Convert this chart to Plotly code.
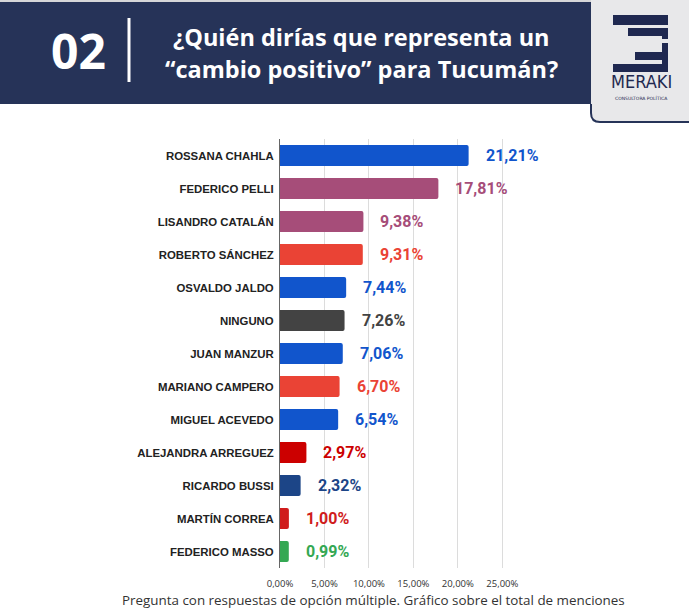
import plotly.graph_objects as go

names = ["ROSSANA CHAHLA", "FEDERICO PELLI", "LISANDRO CATALÁN", "ROBERTO SÁNCHEZ",
         "OSVALDO JALDO", "NINGUNO", "JUAN MANZUR", "MARIANO CAMPERO", "MIGUEL ACEVEDO",
         "ALEJANDRA ARREGUEZ", "RICARDO BUSSI", "MARTÍN CORREA", "FEDERICO MASSO"]
values = [21.21, 17.81, 9.38, 9.31, 7.44, 7.26, 7.06, 6.70, 6.54, 2.97, 2.32, 1.00, 0.99]
colors = ["#1155cc", "#a64d79", "#a64d79", "#ea4335", "#1155cc", "#434343", "#1155cc",
          "#ea4335", "#1155cc", "#cc0000", "#1c4587", "#d01c1c", "#34a853"]
tick_vals = [0, 5, 10, 15, 20, 25]
tick_text = ["0,00%", "5,00%", "10,00%", "15,00%", "20,00%", "25,00%"]

W, H = 689, 612
L, T, R, B = 280, 139, 160, 44
PW, PH = W - L - R, H - T - B
NAVY = "#263358"
LOGO = "#1f2850"


def px(x):
    return (x - L) / PW


def py(y):
    return 1 - (y - T) / PH


def rect(x0, y0, x1, y1, color):
    return dict(type="rect", xref="paper", yref="paper", x0=px(x0), x1=px(x1),
                y0=py(y1), y1=py(y0), fillcolor=color, line=dict(width=0))


def path(pts, close=True):
    s = ""
    for i, p in enumerate(pts):
        if p[0] == "Q":
            s += f" Q {px(p[1]):.5f},{py(p[2]):.5f} {px(p[3]):.5f},{py(p[4]):.5f}"
        else:
            s += (" M " if i == 0 else " L ") + f"{px(p[0]):.5f},{py(p[1]):.5f}"
    return s + (" Z" if close else "")


fig = go.Figure(go.Bar(
    x=values, y=names, orientation="h", marker=dict(color=colors, line=dict(width=0)),
    hoverinfo="skip"))

shapes = [
    rect(0, 0, 689, 2, "#d6d6d8"),
    rect(0, 2, 593, 104, NAVY),
    rect(127.5, 18, 130.5, 82, "#ffffff"),
    dict(type="path", xref="paper", yref="paper",
         path=path([(591, 0), (689, 0), (689, 122), (600, 122), ("Q", 591, 122, 591, 113)]),
         fillcolor="#e8e8ea", line=dict(width=0)),
    dict(type="path", xref="paper", yref="paper",
         path=path([(591, 104), (591, 113), ("Q", 591, 122, 600, 122), (689, 122)], close=False),
         line=dict(color=NAVY, width=2)),
    # logo glyph
    rect(613, 15, 668, 25, LOGO),
    rect(628, 28, 668, 36, LOGO),
    rect(662, 36, 668, 39, LOGO),
    rect(662, 43, 668, 72, LOGO),
    rect(635, 52, 662, 60, LOGO),
    rect(613, 64, 668, 72, LOGO),
]

annotations = [
    dict(xref="paper", yref="paper", x=px(78), y=py(50), text="<b>02</b>", showarrow=False,
         font=dict(family="Open Sans", size=48, color="#ffffff"), xanchor="center", yanchor="middle"),
    dict(xref="paper", yref="paper", x=px(361), y=py(37), text="<b>¿Quién dirías que representa un</b>",
         showarrow=False, font=dict(family="Open Sans", size=23.5, color="#ffffff"),
         xanchor="center", yanchor="middle"),
    dict(xref="paper", yref="paper", x=px(361), y=py(69), text="<b>“cambio positivo” para Tucumán?</b>",
         showarrow=False, font=dict(family="Open Sans", size=23.5, color="#ffffff"),
         xanchor="center", yanchor="middle"),
    dict(xref="paper", yref="paper", x=px(641), y=py(82), text="MERAKI", showarrow=False,
         font=dict(family="DejaVu Sans Condensed, Liberation Sans Narrow, sans-serif", size=18, color=LOGO),
         xanchor="center", yanchor="middle"),
    dict(xref="paper", yref="paper", x=px(641), y=py(98), text="CONSULTORA POLÍTICA", showarrow=False,
         font=dict(family="DejaVu Sans", size=4.5, color=LOGO), xanchor="center", yanchor="middle"),
    dict(xref="paper", yref="paper", x=px(373), y=py(600),
         text="Pregunta con respuestas de opción múltiple. Gráfico sobre el total de menciones",
         showarrow=False, font=dict(family="Open Sans", size=13.4, color="#333333"),
         xanchor="center", yanchor="middle"),
]
for n, v, c in zip(names, values, colors):
    annotations.append(dict(x=v, y=n, xref="x", yref="y", text=f"<b>{v:.2f}".replace(".", ",") + "%</b>",
                            showarrow=False, xanchor="left", yanchor="middle", xshift=15,
                            font=dict(family="Roboto", size=16, color=c)))

fig.update_layout(
    width=W, height=H, margin=dict(l=L, r=R, t=T, b=B, autoexpand=False),
    paper_bgcolor="#ffffff", plot_bgcolor="#ffffff",
    bargap=0.36, barcornerradius=2, showlegend=False,
    shapes=shapes, annotations=annotations,
    xaxis=dict(range=[0, 28], tickvals=tick_vals, ticktext=tick_text, showgrid=True,
               gridcolor="#dcdcdc", gridwidth=1, zeroline=False, showline=False,
               tickfont=dict(family="Open Sans", size=9.5, color="#333333"), ticklabelstandoff=8,
               fixedrange=True),
    yaxis=dict(autorange="reversed", showline=True, linecolor="#666666", linewidth=1,
               showgrid=False, tickfont=dict(family="Liberation Sans, Arial", size=11.4, color="#222222",
                                              weight="bold"),
               ticklabelstandoff=3, fixedrange=True),
)

fig.write_html("out.html")
